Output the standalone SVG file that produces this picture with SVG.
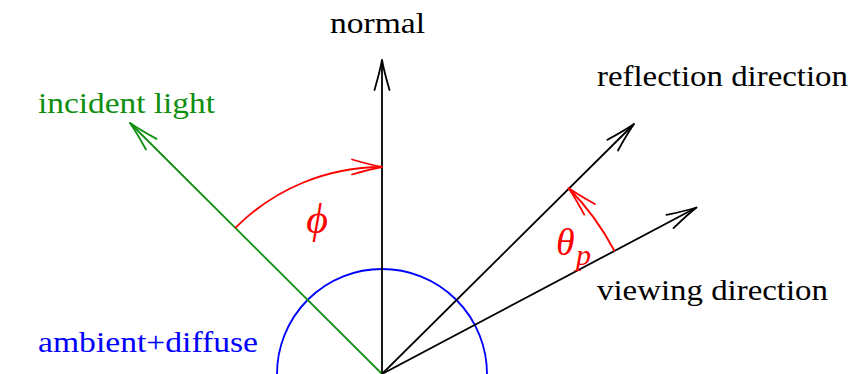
<svg xmlns="http://www.w3.org/2000/svg" width="852" height="374" viewBox="0 0 852 374">
<style>
  .blk { fill: #000; }
  .grn { fill: #0f8f0f; }
  .blu { fill: #0000ff; }
  .red { fill: #ff0000; font-style: italic; }
  .ln { fill: none; stroke-width: 1.8; stroke-linecap: round; }
</style>
<defs>
  <marker id="ahK" markerUnits="userSpaceOnUse" markerWidth="40" markerHeight="20" viewBox="-32 -10 34 20" refX="0" refY="0" orient="auto">
    <path d="M -30 -7.5 Q -11 -2 0 0 Q -11 2 -30 7.5" fill="none" stroke="#000" stroke-width="1.8" stroke-linecap="round"/>
  </marker>
  <marker id="ahG" markerUnits="userSpaceOnUse" markerWidth="40" markerHeight="20" viewBox="-32 -10 34 20" refX="0" refY="0" orient="auto">
    <path d="M -30 -7.5 Q -11 -2 0 0 Q -11 2 -30 7.5" fill="none" stroke="#0f8f0f" stroke-width="1.8" stroke-linecap="round"/>
  </marker>
  <marker id="ahR" markerUnits="userSpaceOnUse" markerWidth="40" markerHeight="20" viewBox="-32 -10 34 20" refX="0" refY="0" orient="auto">
    <path d="M -30 -7.5 Q -11 -2 0 0 Q -11 2 -30 7.5" fill="none" stroke="#ff0000" stroke-width="1.8" stroke-linecap="round"/>
  </marker>
</defs>
<rect width="852" height="374" fill="#fff"/>

<g id="connectors">
  <path id="ambient-arc" class="ln" d="M 277 374 A 105 105 0 0 1 487 374" stroke="#0000ff" stroke-width="2"/>
  <line id="normal-line" class="ln" x1="382" y1="374" x2="382" y2="60" stroke="#000" marker-end="url(#ahK)"/>
  <line id="incident-line" class="ln" x1="382" y1="374" x2="130" y2="123" stroke="#0f8f0f" marker-end="url(#ahG)"/>
  <line id="reflection-line" class="ln" x1="382" y1="374" x2="634" y2="124" stroke="#000" marker-end="url(#ahK)"/>
  <line id="viewing-line" class="ln" x1="382" y1="374" x2="696.5" y2="207.5" stroke="#000" marker-end="url(#ahK)"/>
  <path id="phi-arc" class="ln" d="M 235.6 227.6 A 207 207 0 0 1 382 167" stroke="#ff0000" marker-end="url(#ahR)"/>
  <path id="theta-arc" class="ln" d="M 614.2 250.5 A 263 263 0 0 0 568.5 188" stroke="#ff0000" marker-end="url(#ahR)"/>
</g>

<g font-family="'Liberation Serif', 'Times New Roman', Tinos, 'Nimbus Roman', 'Noto Serif', 'DejaVu Serif', FreeSerif, serif" font-size="30">
<g id="normal"><text class="blk" x="330" y="33" textLength="95" lengthAdjust="spacingAndGlyphs">normal</text></g>
<g id="incident-light"><text class="grn" x="38" y="113" textLength="177" lengthAdjust="spacingAndGlyphs">incident light</text></g>
<g id="reflection-direction"><text class="blk" x="597" y="86" textLength="251" lengthAdjust="spacingAndGlyphs">reflection direction</text></g>
<g id="viewing-direction"><text class="blk" x="597" y="300" textLength="231" lengthAdjust="spacingAndGlyphs">viewing direction</text></g>
<g id="ambient-diffuse"><text class="blu" x="38" y="352" textLength="220" lengthAdjust="spacingAndGlyphs">ambient+diffuse</text></g>
<g id="phi-label"><text class="red" x="317" y="233" text-anchor="middle" font-size="42">ϕ</text></g>
<g id="theta-label"><text class="red" x="556" y="255" font-size="38">θ<tspan font-size="30" x="576" y="265">p</tspan></text></g>
</g>
</svg>
